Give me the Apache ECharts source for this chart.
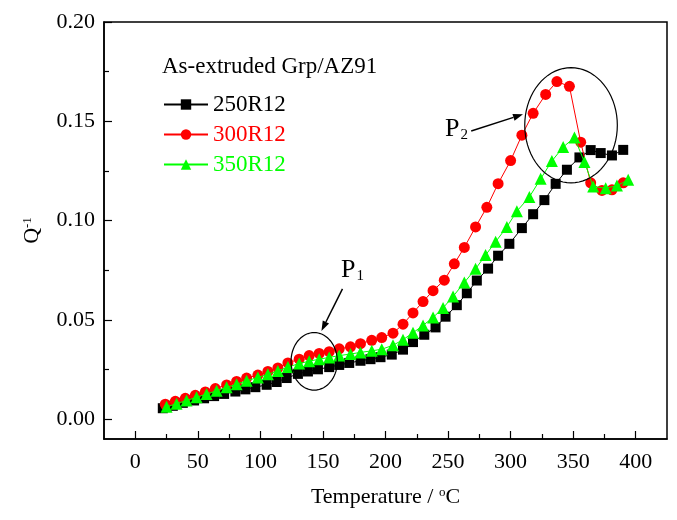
<!DOCTYPE html>
<html>
<head>
<meta charset="utf-8">
<script src="https://cdn.jsdelivr.net/npm/echarts@6/dist/echarts.min.js"></script>
<style>
html,body{margin:0;padding:0;background:#fff;}
#chart{width:677px;height:520px;}
</style>
</head>
<body>
<div id="chart"></div>
<script>
// ---- data (Temperature / °C, Q^-1) ----
const t250 = [22,30,38,47,55,63,71,80,88,96,105,113,121,130,138,146,155,163,171,180,188,196,205,214,222,231,240,248,257,265,273,282,290,299,309,318,327,336,345,355,364,372,381,390];
const q250 = [0.0055,0.0067,0.0082,0.0094,0.0105,0.0116,0.0127,0.0139,0.0150,0.0161,0.0173,0.0187,0.0207,0.0228,0.0240,0.0251,0.0262,0.0273,0.0283,0.0294,0.0302,0.0312,0.0325,0.0350,0.0388,0.0425,0.0462,0.0516,0.0574,0.0634,0.0698,0.0758,0.0823,0.0883,0.0962,0.1032,0.1103,0.1185,0.1256,0.1318,0.1355,0.1340,0.1328,0.1356];

const t300 = [24,32,40,48,56,64,73,81,89,98,106,114,122,131,139,147,155,163,172,180,189,197,206,214,222,230,238,247,255,263,272,281,290,300,309,318,328,337,347,356,364,373,381,390];
const q300 = [0.0075,0.0090,0.0105,0.0120,0.0137,0.0154,0.0172,0.0190,0.0207,0.0222,0.0240,0.0258,0.0283,0.0302,0.0320,0.0331,0.0340,0.0354,0.0364,0.0380,0.0397,0.0411,0.0433,0.0478,0.0535,0.0592,0.0647,0.0700,0.0782,0.0865,0.0968,0.1067,0.1186,0.1302,0.1430,0.1540,0.1635,0.1700,0.1676,0.1395,0.1190,0.1152,0.1155,0.1190];

const t350 = [25,33,41,49,57,65,73,81,89,98,106,114,122,131,139,147,155,163,172,180,189,197,206,214,222,230,238,246,254,263,272,280,288,297,305,315,324,333,342,351,359,366,376,385,394];
const q350 = [0.0062,0.0078,0.0094,0.0110,0.0127,0.0143,0.0160,0.0176,0.0193,0.0210,0.0226,0.0243,0.0262,0.0280,0.0292,0.0302,0.0311,0.0320,0.0328,0.0336,0.0344,0.0352,0.0372,0.0400,0.0435,0.0472,0.0512,0.0560,0.0618,0.0688,0.0757,0.0826,0.0893,0.0968,0.1047,0.1119,0.1210,0.1300,0.1370,0.1418,0.1295,0.1172,0.1163,0.1176,0.1205];

const seriesNames = ['250R12','300R12','350R12'];
const xTickLabels = [0,50,100,150,200,250,300,350,400];
const xMinorTicks = [25,75,125,175,225,275,325,375];
const yTickLabels = [0,0.05,0.10,0.15,0.20];
const yMinorTicks = [0.025,0.075,0.125,0.175];

// annotation anchors in data coordinates
const annoEllipses = [
  {cx:143, cy:0.0291, rx:18.5, ry:0.0145},
  {cx:348.3, cy:0.148, rx:37, ry:0.029}
];
const annoArrows = [
  {from:[165.6,0.0656], to:[148.8,0.0444]},
  {from:[268.5,0.1451], to:[309.9,0.1535]}
];
const annoLabels = [
  {pos:[164.5,0.0685], sub:'1'},
  {pos:[247.5,0.1394], sub:'2'}
];

const FONT = "'Liberation Serif','Times New Roman',serif";
const chart = echarts.init(document.getElementById('chart'), null, {renderer:'canvas'});

function pairs(xs, ys){ return xs.map((x,i)=>[x,ys[i]]); }

const colors = ['#000000','#ff0000','#00ff00'];
const symbols = ['rect','circle','triangle'];
const symSizes = [10,11,12];
const datas = [pairs(t250,q250), pairs(t300,q300), pairs(t350,q350)];

const axisLineStyle = {color:'#000', width:1.5};

const option = {
  animation:false,
  backgroundColor:'#fff',
  title:{
    text:'As-extruded Grp/AZ91',
    left:157, top:50,
    textStyle:{fontFamily:FONT, fontSize:23, fontWeight:'normal', color:'#000'}
  },
  legend:{
    orient:'vertical',
    left:158, top:88,
    itemWidth:44, itemHeight:13, itemGap:7,
    textStyle:{fontFamily:FONT, fontSize:23},
    data: seriesNames.map((n,i)=>({name:n, textStyle:{color:colors[i]}}))
  },
  grid:{left:104, right:10, top:22, bottom:81, show:true, borderColor:'#000', borderWidth:1.5, backgroundColor:'transparent'},
  xAxis:[
    {
      type:'value', min:-25, max:425,
      name:'Temperature / {sup|o}C',
      nameLocation:'middle', nameGap:47,
      nameTextStyle:{fontFamily:FONT, fontSize:22, color:'#000',
        rich:{sup:{fontFamily:FONT, fontSize:13, verticalAlign:'top', padding:[0,0,10,0], color:'#000'}}},
      axisLine:{show:true, onZero:false, lineStyle:axisLineStyle},
      axisTick:{show:true, inside:true, length:8, customValues:xTickLabels, lineStyle:{color:'#000', width:1.2}},
      axisLabel:{show:true, customValues:xTickLabels, margin:12, fontFamily:FONT, fontSize:22, color:'#000'},
      splitLine:{show:false}
    },
    {
      type:'value', min:-25, max:425, position:'bottom',
      axisLine:{show:false, onZero:false},
      axisTick:{show:true, inside:true, length:5, customValues:xMinorTicks, lineStyle:{color:'#000', width:1.2}},
      axisLabel:{show:false},
      splitLine:{show:false}
    }
  ],
  yAxis:[
    {
      type:'value', min:-0.01, max:0.2,
      name:'Q{sup|-1}',
      nameLocation:'middle', nameGap:60, nameRotate:90,
      nameTextStyle:{fontFamily:FONT, fontSize:22, color:'#000',
        rich:{sup:{fontFamily:FONT, fontSize:13, verticalAlign:'top', padding:[0,0,10,0], color:'#000'}}},
      axisLine:{show:true, onZero:false, lineStyle:axisLineStyle},
      axisTick:{show:true, inside:true, length:8, customValues:yTickLabels, lineStyle:{color:'#000', width:1.2}},
      axisLabel:{show:true, customValues:yTickLabels, margin:9, fontFamily:FONT, fontSize:22, color:'#000',
        formatter:(v)=>Number(v).toFixed(2)},
      splitLine:{show:false}
    },
    {
      type:'value', min:-0.01, max:0.2, position:'left',
      axisLine:{show:false, onZero:false},
      axisTick:{show:true, inside:true, length:5, customValues:yMinorTicks, lineStyle:{color:'#000', width:1.2}},
      axisLabel:{show:false},
      splitLine:{show:false}
    }
  ],
  series: seriesNames.map((n,i)=>({
    name:n, type:'line', xAxisIndex:0, yAxisIndex:0,
    data:datas[i],
    symbol:symbols[i], symbolSize:symSizes[i],
    showAllSymbol:true,
    z:2+i,
    lineStyle:{color:colors[i], width:1},
    itemStyle:{color:colors[i]}
  }))
};
chart.setOption(option);

// annotations positioned from data coordinates
function px(p){ return chart.convertToPixel({xAxisIndex:0, yAxisIndex:0}, p); }
const elements = [];
annoEllipses.forEach(e=>{
  const c = px([e.cx, e.cy]);
  const r1 = px([e.cx + e.rx, e.cy]);
  const r2 = px([e.cx, e.cy + e.ry]);
  const rxp = Math.abs(r1[0]-c[0]), ryp = Math.abs(r2[1]-c[1]);
  const pts = [];
  for(let k=0;k<=72;k++){ const a = k/72*Math.PI*2; pts.push([c[0]+rxp*Math.cos(a), c[1]+ryp*Math.sin(a)]); }
  elements.push({type:'polyline', shape:{points:pts}, style:{stroke:'#000', lineWidth:1.2, fill:null}, z:10});
});
annoArrows.forEach(a=>{
  const p0 = px(a.from), p1 = px(a.to);
  const ang = Math.atan2(p1[1]-p0[1], p1[0]-p0[0]);
  const L = 10, W = 3.5;
  const bx = p1[0]-L*Math.cos(ang), by = p1[1]-L*Math.sin(ang);
  elements.push({type:'line', shape:{x1:p0[0], y1:p0[1], x2:bx, y2:by}, style:{stroke:'#000', lineWidth:1.5}, z:10});
  elements.push({type:'polygon', shape:{points:[
    [p1[0],p1[1]],
    [bx + W*Math.sin(ang), by - W*Math.cos(ang)],
    [bx - W*Math.sin(ang), by + W*Math.cos(ang)]
  ]}, style:{fill:'#000'}, z:10});
});
annoLabels.forEach(l=>{
  const p = px(l.pos);
  elements.push({type:'text', x:p[0], y:p[1], z:10, style:{
    text:'P{s|'+l.sub+'}', fill:'#000', font:"26px "+FONT, verticalAlign:'bottom', align:'left',
    rich:{s:{font:"15px "+FONT, verticalAlign:'bottom', padding:[0,0,0,1], fill:'#000'}}
  }});
});
chart.setOption({graphic:{elements:elements}});
</script>
</body>
</html>
